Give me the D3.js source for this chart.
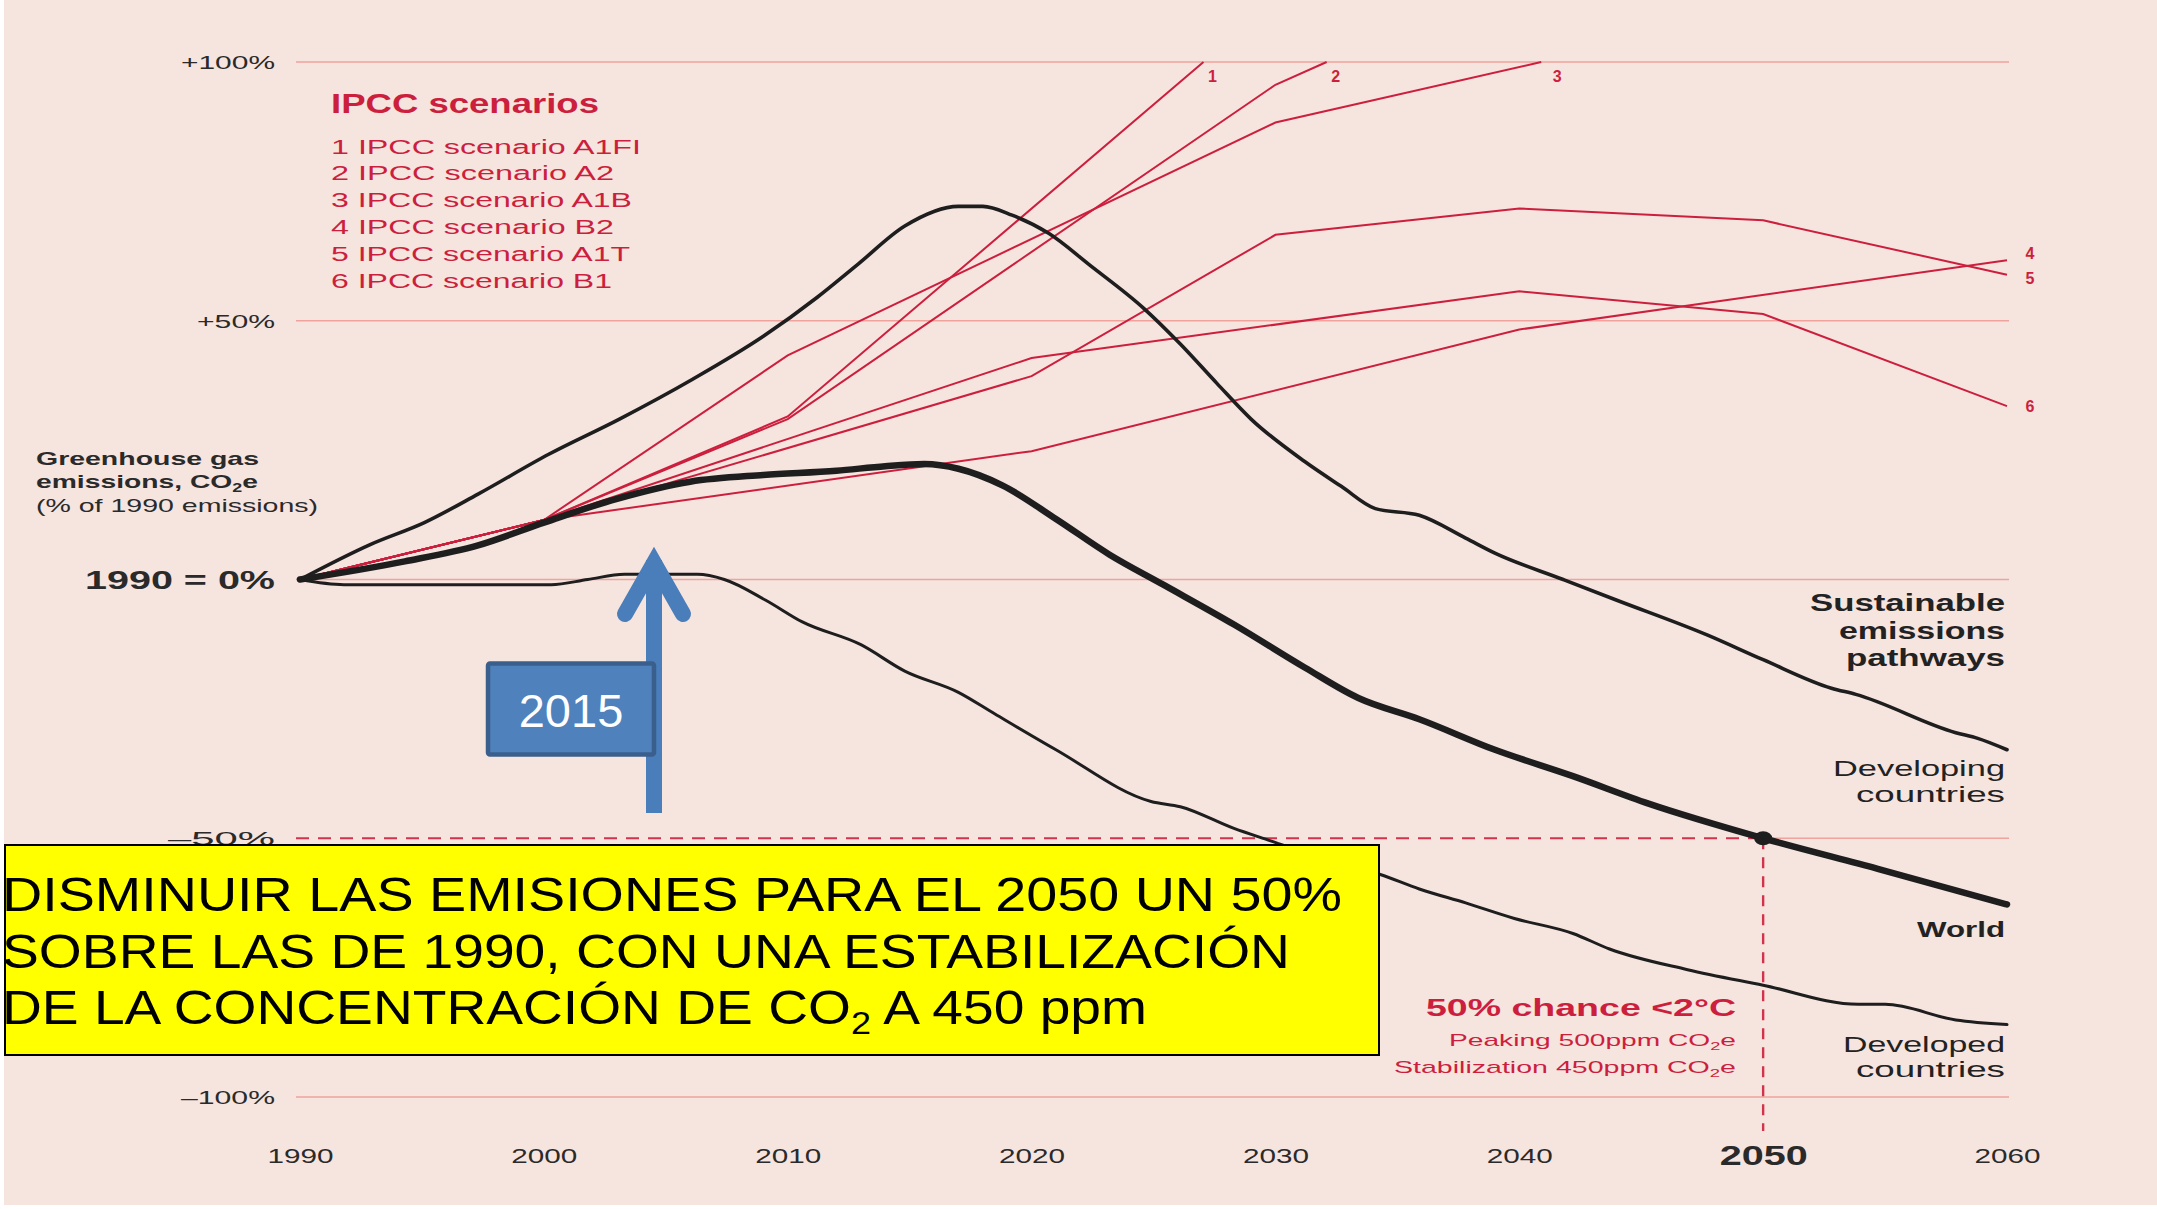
<!DOCTYPE html>
<html>
<head>
<meta charset="utf-8">
<script src="https://cdn.jsdelivr.net/npm/d3@7"></script>
<style>
    html, body { margin: 0; padding: 0; background: #ffffff; }
    svg { display: block; font-family: "Liberation Sans", Arial, sans-serif; }
</style>
</head>
<body>
<svg id="chart" width="2157" height="1209"></svg>
<script>
"use strict";

// ---- data (% change vs 1990) ----
const years = [1990, 2000, 2010, 2020, 2030, 2040, 2050, 2060];
const yTicks = [100, 50, 0, -50, -100];
const yTickLabels = ['+100%', '+50%', '1990 = 0%', '\u201350%', '\u2013100%'];

const developing = [
    [1990, 0], [1992.9, 6.8], [1995.1, 11], [1997.3, 16.5], [2000.2, 24.2], [2003.1, 31],
    [2006.1, 38.7], [2009, 47], [2011.2, 54.5], [2012.9, 61], [2014.8, 68.3], [2017, 72.1],
    [2018, 72.1], [2019.2, 70.4], [2020.7, 66.9], [2022.4, 60.7], [2024.6, 52.4], [2026.1, 45.5],
    [2027.6, 37.9], [2029, 31], [2031.2, 22.8], [2032.7, 18], [2034.1, 13.7], [2035.9, 12.4],
    [2037.8, 8], [2039, 5.1], [2041.8, 0], [2044, -4], [2047.7, -10.7], [2050, -15.5],
    [2052.8, -21], [2053.8, -22.2], [2057.9, -29.6], [2058.8, -30.7], [2060, -32.9]
];
const world = [
    [1990, 0], [1994.3, 3.5], [1997.3, 6.6], [2000, 11], [2003, 15.6], [2006, 18.9],
    [2009, 20.2], [2012, 21], [2014, 21.9], [2015.6, 22.3], [2017, 21.4], [2018.8, 18.2], [2021, 11.7],
    [2023.2, 4.8], [2025.4, -1], [2028.3, -8.7], [2031.2, -17], [2033.4, -22.9], [2035.9, -27],
    [2039, -32.9], [2042.2, -38], [2045.3, -43.3], [2050, -50], [2054.7, -55.9], [2060, -62.8]
];
const developed = [
    [1990, 0], [1991.8, -1], [2000.3, -1], [2001.8, 0], [2003.3, 1], [2006.3, 1],
    [2007.4, 0], [2009.1, -4], [2010.6, -8.2], [2013, -12.6], [2014.8, -17.7], [2017, -21.8],
    [2018.5, -26], [2021, -32.9], [2024.9, -42.9], [2026.1, -43.9], [2028.3, -48.1], [2029.8, -50.5],
    [2032, -54], [2034.3, -57], [2035.9, -59.8], [2037.8, -62.5], [2039.8, -65.5], [2042.2, -68.4],
    [2043.7, -71.4], [2046.9, -75.4], [2050, -78.4], [2053.9, -82.1], [2055, -82.1],
    [2057.9, -85.1], [2060, -86]
];

const scenarioNames = ['IPCC scenario A1FI', 'IPCC scenario A2', 'IPCC scenario A1B',
                       'IPCC scenario B2', 'IPCC scenario A1T', 'IPCC scenario B1'];
const scenarioA1FI = [[1990, 0], [2000, 11.5], [2010, 31.5], [2027.05, 100]];
const scenarioA2 = [[1990, 0], [2000, 11.5], [2010, 31], [2030, 95.6], [2032.1, 100]];
const scenarioA1B = [[1990, 0], [2000, 11.5], [2010, 43.3], [2030, 88.3], [2040.9, 100]];
const scenarioB2 = [[1990, 0], [2000, 11.5], [2020, 24.8], [2040, 48.3], [2060, 61.7]];
const scenarioA1T = [[1990, 0], [2000, 11.5], [2020, 39.3], [2030, 66.6], [2040, 71.7], [2050, 69.4], [2060, 58.9]];
const scenarioB1 = [[1990, 0], [2000, 11.5], [2020, 42.8], [2040, 55.7], [2050, 51.3], [2060, 33.5]];
const scenarios = [scenarioA1FI, scenarioA2, scenarioA1B, scenarioB2, scenarioA1T, scenarioB1];

const targetYear = 2050, targetValue = -50;

// ---- layout ----
const red = '#cc1f3d', grid = '#efa39c', ink = '#1e1e1e';
const svg = d3.select('#chart');

svg.append('rect').attr('x', 4).attr('y', 0).attr('width', 2153).attr('height', 1205)
    .attr('fill', '#f6e4df');

const x = d3.scaleLinear().domain([1990, 2060]).range([300, 2007]);
const y = d3.scaleLinear().domain([-100, 100]).range([1097, 62]);

const line = d3.line().x(d => x(d[0])).y(d => y(d[1]));
const smooth = d3.line().x(d => x(d[0])).y(d => y(d[1])).curve(d3.curveMonotoneX);

// stretch a text to the width it has in the picture
function fit(sel, w, adjust) {
    return sel.attr('textLength', w).attr('lengthAdjust', adjust || 'spacingAndGlyphs');
}

// gridlines (the -50% one is dashed up to 2050)
svg.append('g').selectAll('line')
    .data(yTicks)
    .join('line')
    .attr('x1', d => d === targetValue ? x(targetYear) : x(1990) - 4)
    .attr('x2', x(2060) + 2)
    .attr('y1', d => y(d)).attr('y2', d => y(d))
    .attr('stroke', grid).attr('stroke-width', 1.4);

svg.append('line')
    .attr('x1', x(1990) - 4).attr('x2', x(targetYear))
    .attr('y1', y(targetValue)).attr('y2', y(targetValue))
    .attr('stroke', '#d2324c').attr('stroke-width', 2.2).attr('stroke-dasharray', '13,9');
svg.append('line')
    .attr('x1', x(targetYear)).attr('x2', x(targetYear))
    .attr('y1', y(targetValue)).attr('y2', 1131)
    .attr('stroke', '#d2324c').attr('stroke-width', 2.4).attr('stroke-dasharray', '11,8');

// y axis labels
const yAxis = d3.axisLeft(y).tickValues(yTicks).tickSize(0).tickPadding(0)
    .tickFormat((d, i) => yTickLabels[i]);
const gy = svg.append('g').attr('transform', 'translate(275,0)').call(yAxis);
gy.select('.domain').remove();
const yWidths = [94, 78, 190, 107, 94];
gy.selectAll('.tick text')
    .attr('x', 0).attr('dy', '0.36em')
    .attr('fill', '#2a2a2a')
    .style('font-family', '"Liberation Sans", Arial, sans-serif')
    .style('font-size', d => d === 0 ? '25px' : '18px')
    .style('font-weight', d => d === 0 ? 'bold' : 'normal')
    .each(function (d, i) { fit(d3.select(this), yWidths[i]); });

// x axis labels
const xAxis = d3.axisBottom(x).tickValues(years).tickSize(0).tickPadding(0).tickFormat(d3.format('d'));
const gx = svg.append('g').attr('transform', 'translate(0,1163)').call(xAxis);
gx.select('.domain').remove();
gx.selectAll('.tick text')
    .attr('y', 0).attr('dy', d => d === targetYear ? '1.5' : '0')
    .attr('fill', '#2a2a2a')
    .style('font-family', '"Liberation Sans", Arial, sans-serif')
    .style('font-size', d => d === targetYear ? '27px' : '21px')
    .style('font-weight', d => d === targetYear ? 'bold' : 'normal')
    .each(function (d) { fit(d3.select(this), d === targetYear ? 88 : 66); });

// scenario lines
svg.append('g').selectAll('path')
    .data(scenarios)
    .join('path')
    .attr('d', line)
    .attr('fill', 'none').attr('stroke', red).attr('stroke-width', 2);

const endOffsets = [[9, 14], [9, 14], [16, 14], [23, -7], [23, 4], [23, 0]];
svg.append('g').selectAll('text')
    .data(scenarios)
    .join('text')
    .attr('x', (d, i) => x(d[d.length - 1][0]) + endOffsets[i][0])
    .attr('y', (d, i) => y(d[d.length - 1][1]) + endOffsets[i][1])
    .attr('dy', '0.36em').attr('text-anchor', 'middle')
    .attr('fill', red).style('font-size', '16px').style('font-weight', 'bold')
    .text((d, i) => i + 1);

// pathways
const pathways = [
    {data: developing, width: 3.6},
    {data: world, width: 6.5},
    {data: developed, width: 3}
];
svg.append('g').selectAll('path')
    .data(pathways)
    .join('path')
    .attr('d', d => smooth(d.data))
    .attr('fill', 'none').attr('stroke', ink)
    .attr('stroke-width', d => d.width)
    .attr('stroke-linejoin', 'round').attr('stroke-linecap', 'round');

svg.append('ellipse')
    .attr('cx', x(targetYear)).attr('cy', y(targetValue))
    .attr('rx', 9).attr('ry', 7).attr('fill', ink);

// legend
const legend = svg.append('g').attr('fill', red);
fit(legend.append('text').attr('x', 331).attr('y', 112.5)
    .style('font-size', '27px').style('font-weight', 'bold')
    .text('IPCC scenarios'), 268);
const legendWidths = [310, 283, 301, 283, 299, 281];
legend.selectAll('.item')
    .data(scenarioNames)
    .join('text')
    .attr('class', 'item')
    .attr('x', 331).attr('y', (d, i) => 153.6 + i * 26.8)
    .style('font-size', '20px')
    .attr('textLength', (d, i) => legendWidths[i]).attr('lengthAdjust', 'spacingAndGlyphs')
    .text((d, i) => `${i + 1} ${d}`);

// axis title
const title = svg.append('g').attr('fill', '#2a2a2a').style('font-size', '19px');
fit(title.append('text').attr('x', 36).attr('y', 465).style('font-weight', 'bold')
    .text('Greenhouse gas'), 223);
const t2 = title.append('text').attr('x', 36).attr('y', 488).style('font-weight', 'bold');
t2.append('tspan').text('emissions, CO');
t2.append('tspan').attr('dy', 4).style('font-size', '12px').text('2');
t2.append('tspan').attr('dy', -4).text('e');
fit(t2, 222);
fit(title.append('text').attr('x', 36).attr('y', 511.7)
    .text('(% of 1990 emissions)'), 282);

// right hand labels
const rightLabels = svg.append('g').attr('fill', '#222').attr('text-anchor', 'end');
const rl = [
    {t: 'Sustainable', y: 611.4, w: 195, b: true, s: 23},
    {t: 'emissions', y: 638.5, w: 166, b: true, s: 23},
    {t: 'pathways', y: 666, w: 159, b: true, s: 23},
    {t: 'Developing', y: 776, w: 172, b: false, s: 22},
    {t: 'countries', y: 802, w: 149, b: false, s: 22},
    {t: 'World', y: 936.8, w: 88, b: true, s: 22},
    {t: 'Developed', y: 1051.6, w: 162, b: false, s: 22},
    {t: 'countries', y: 1076.5, w: 149, b: false, s: 22}
];
rightLabels.selectAll('text')
    .data(rl)
    .join('text')
    .attr('x', 2005).attr('y', d => d.y)
    .style('font-size', d => d.s + 'px')
    .style('font-weight', d => d.b ? 'bold' : 'normal')
    .attr('textLength', d => d.w).attr('lengthAdjust', 'spacingAndGlyphs')
    .text(d => d.t);

// 2 degree annotation
const note = svg.append('g').attr('fill', red).attr('text-anchor', 'end');
fit(note.append('text').attr('x', 1736).attr('y', 1016.4)
    .style('font-size', '23px').style('font-weight', 'bold')
    .text('50% chance <2\u00b0C'), 310);
[['Peaking 500ppm CO', 1045.8, 287], ['Stabilization 450ppm CO', 1072.6, 342]].forEach(r => {
    const t = note.append('text').attr('x', 1736).attr('y', r[1]).style('font-size', '17px');
    t.append('tspan').text(r[0]);
    t.append('tspan').attr('dy', 4).style('font-size', '11px').text('2');
    t.append('tspan').attr('dy', -4).text('e');
    fit(t, r[2]);
});

// ---- slide overlays ----
const blue = '#4a7ebb';
svg.append('line')
    .attr('x1', 654).attr('x2', 654).attr('y1', 813).attr('y2', 560)
    .attr('stroke', blue).attr('stroke-width', 16);
svg.append('polyline')
    .attr('points', '625,614 654,563 683,614')
    .attr('fill', 'none').attr('stroke', blue).attr('stroke-width', 16)
    .attr('stroke-linecap', 'round').attr('stroke-linejoin', 'miter');

svg.append('rect')
    .attr('x', 488).attr('y', 663.5).attr('width', 166).attr('height', 91).attr('rx', 2)
    .attr('fill', '#4f81bd').attr('stroke', '#3b5f8d').attr('stroke-width', 4.5);
svg.append('text')
    .attr('x', 571).attr('y', 727).attr('text-anchor', 'middle')
    .attr('fill', '#ffffff').style('font-size', '47px')
    .text('2015');

svg.append('rect')
    .attr('x', 5).attr('y', 845).attr('width', 1374).attr('height', 210)
    .attr('fill', '#ffff00').attr('stroke', '#000').attr('stroke-width', 2);
const box = svg.append('g').attr('fill', '#000').style('font-size', '49px');
fit(box.append('text').attr('x', 2).attr('y', 910.5)
    .text('DISMINUIR LAS EMISIONES PARA EL 2050 UN 50%'), 1340);
fit(box.append('text').attr('x', 2).attr('y', 968)
    .text('SOBRE LAS DE 1990, CON UNA ESTABILIZACI\u00d3N'), 1288);
const l3 = box.append('text').attr('x', 2).attr('y', 1024);
l3.append('tspan').text('DE LA CONCENTRACI\u00d3N DE CO');
l3.append('tspan').attr('dy', 10).style('font-size', '32px').text('2');
l3.append('tspan').attr('dy', -10).text(' A 450 ppm');
fit(l3, 1145);
</script>
</body>
</html>
